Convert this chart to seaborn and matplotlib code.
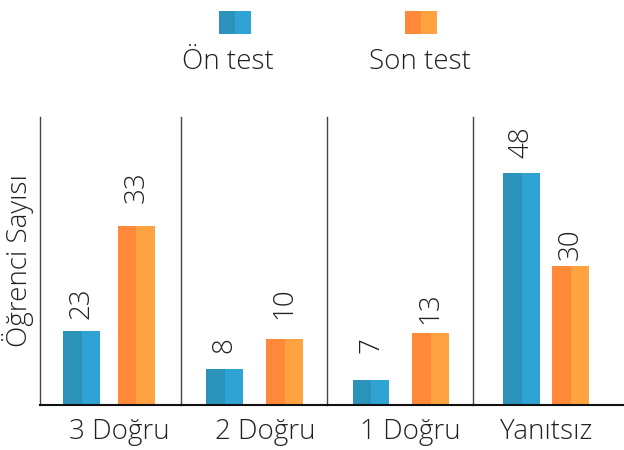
import matplotlib
matplotlib.use("Agg")
import matplotlib.pyplot as plt
from matplotlib.patches import Rectangle
import seaborn as sns
import pandas as pd

# ---- data ----
categories = ["3 Doğru", "2 Doğru", "1 Doğru", "Yanıtsız"]
series = ["Ön test", "Son test"]
on_test = [23, 8, 7, 48]
son_test = [33, 10, 13, 30]
y_label = "Öğrenci Sayısı"

# per-panel value axis ranges (each panel is scaled on its own)
ylims = [(15.95, 43.4), (5.6, 24.8), (3.8, 40.6), (3.1, 58.8)]

# ---- style ----
dark = ["#2b93ba", "#ff8938"]
light = ["#2ea3d4", "#ffa240"]

sns.set_theme(style="white")
plt.rcParams["font.family"] = ["Open Sans", "DejaVu Sans"]
FW = 300
FS = 20
TXT = "#222222"

# panel layout in pixels (left, right) and bar widths / x-ranges
W, H = 624, 450
panel_px = [(40, 181), (181, 327), (327, 473), (473, 623)]
xlims = [(-0.755, 1.81), (-0.725, 1.708), (-0.74, 1.714), (-0.99, 2.07)]
widths = [0.67, 0.617, 0.62, 0.755]
label_x = [0.56, 0.58, 0.57, 0.49]
# value-label gap above each bar (points): [series][panel]
label_pad = [[9.0, 11.5, 19.4, 10.8], [16.6, 14.4, 6.5, 4.0]]
ax_bottom, ax_top = 405, 117

fig = plt.figure(figsize=(W / 100, H / 100), dpi=100)

for i, cat in enumerate(categories):
    l, r = panel_px[i]
    ax = fig.add_axes([l / W, (H - ax_bottom) / H, (r - l) / W, (ax_bottom - ax_top) / H])
    df = pd.DataFrame({"Test": series, "Count": [on_test[i], son_test[i]]})
    sns.barplot(data=df, x="Test", y="Count", hue="Test", palette=dark,
                dodge=False, legend=False, width=widths[i], ax=ax,
                linewidth=0, saturation=1)
    ax.set_ylim(*ylims[i])
    ax.set_xlim(*xlims[i])
    for k, cont in enumerate(ax.containers):
        for bar in cont:
            x0, y0 = bar.get_x(), bar.get_y()
            w, h = bar.get_width(), bar.get_height()
            ax.add_patch(Rectangle((x0 + w / 2, y0), w / 2, h,
                                   facecolor=light[k], edgecolor="none", zorder=bar.get_zorder()))
            ax.annotate(f"{h:.0f}", xy=(x0 + w / 2, y0 + h), xytext=(0, label_pad[k][i]),
                        textcoords="offset points", rotation=90, ha="center", va="bottom",
                        fontsize=FS, color=TXT, fontweight=FW, annotation_clip=False)
    ax.set_xticks([])
    ax.set_yticks([])
    ax.set_ylabel(y_label if i == 0 else "", fontsize=FS, color=TXT, labelpad=4, fontweight=FW)
    ax.set_xlabel(cat, fontsize=FS, color=TXT, fontweight=FW)
    ax.xaxis.set_label_coords(label_x[i], -0.045, transform=ax.transAxes)
    ax.xaxis.label.set_va("top")
    for s in ["top", "right"]:
        ax.spines[s].set_visible(False)
    ax.spines["left"].set_color("#444444")
    ax.spines["left"].set_linewidth(1.0)
    ax.spines["bottom"].set_color("#111111")
    ax.spines["bottom"].set_linewidth(1.5)
    ax.patch.set_alpha(0)

# ---- legend at top (two-tone swatches with labels below) ----
swatch_centers = [235, 421]
text_centers = [228, 420]
for k, name in enumerate(series):
    cx = swatch_centers[k]
    for half, col in enumerate([dark[k], light[k]]):
        fig.patches.append(Rectangle(((cx - 16 + half * 16) / W, (H - 34) / H), 16 / W, 23 / H,
                                     transform=fig.transFigure, facecolor=col, edgecolor="none"))
    fig.text(text_centers[k] / W, (H - 62) / H, name, ha="center", va="center",
             fontsize=FS, color=TXT, fontweight=FW)

fig.savefig("out.png", dpi=100)
